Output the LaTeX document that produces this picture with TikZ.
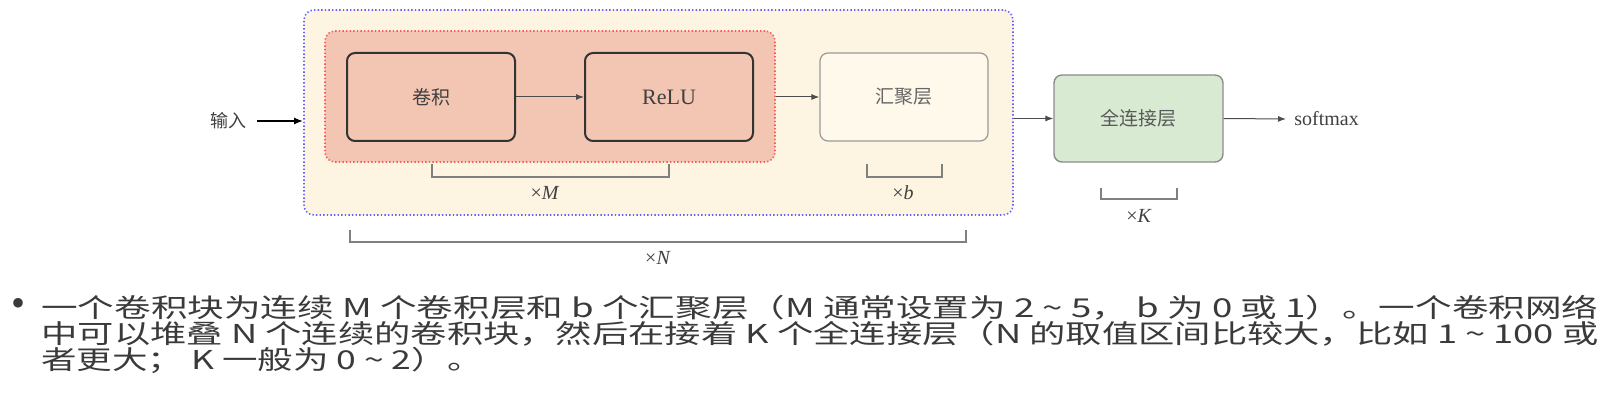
\documentclass[tikz,border=0pt]{standalone}
\usepackage{fontspec}
\usepackage{graphicx}
\usetikzlibrary{arrows.meta}
\newfontfamily\cjk{Noto Sans CJK SC}
\newfontfamily\serif{Liberation Serif}
\definecolor{salmon}{HTML}{F3C6B4}
\definecolor{creamout}{HTML}{FEF4E2}
\definecolor{creampool}{HTML}{FFF9EC}
\definecolor{fcgreen}{HTML}{D9EAD3}
\definecolor{blueline}{HTML}{6464FF}
\definecolor{redline}{HTML}{FF5A5A}
\definecolor{txtgray}{HTML}{3A3A3A}
\newcommand\lineA{一个卷积块为连续 M 个卷积层和 b 个汇聚层（M 通常设置为 2 \textasciitilde{} 5， b 为 0 或 1）。一个卷积网络}
\newcommand\lineB{中可以堆叠 N 个连续的卷积块，然后在接着 K 个全连接层（N 的取值区间比较大，比如 1 \textasciitilde{} 100 或}
\newcommand\lineC{者更大； K 一般为 0 \textasciitilde{} 2）。}
\newcommand\bodyfont{\cjk\fontsize{13pt}{13pt}\selectfont}
\newlength\lineAw
\begin{document}
\settowidth\lineAw{\bodyfont\lineA}
\begin{tikzpicture}[x=0.5pt,y=-0.5pt,
  box/.style={rectangle, rounded corners=4pt, minimum width=84pt, minimum height=44pt, inner sep=0pt, font=\cjk\fontsize{9.5pt}{10pt}\selectfont},
  convbox/.style={box, draw=black!80, line width=1pt, fill=salmon, text=black!75},
  poolbox/.style={box, draw=black!40, line width=0.6pt, fill=creampool, text=black!60},
  fcbox/.style={box, draw=black!45, line width=0.7pt, fill=fcgreen, text=black!65, minimum width=84.5pt, minimum height=43.5pt},
  group/.style={rectangle, rounded corners=5pt, line width=0.8pt, dash pattern=on 0.7pt off 1.1pt, inner sep=0pt},
  arr/.style={-{Latex[length=4pt,width=3pt]}, draw=black!70, line width=0.5pt},
  bracket/.style={draw=black!50, line width=0.6pt},
  lbl/.style={text=black!75, font=\serif\fontsize{10pt}{11pt}\selectfont, inner sep=0pt},
  bodyline/.style={anchor=west, inner sep=0pt, text=txtgray}
]
\useasboundingbox (0,0) rectangle (1612,416);
% groups
\node[group, draw=blueline, fill=creamout, minimum width=354.5pt, minimum height=102.5pt] (outer) at (658.5,112.5) {};
\node[group, draw=redline, fill=salmon, minimum width=225pt, minimum height=65.5pt] (red) at (550,96.5) {};
% boxes
\node[convbox] (conv) at (431,97) {卷积};
\node[convbox, font=\serif\fontsize{11pt}{12pt}\selectfont] (relu) at (669,97) {ReLU};
\node[poolbox] (pool) at (904,97) {汇聚层};
\node[fcbox] (fc) at (1138.5,118.5) {全连接层};
% input / output
\node[lbl, font=\cjk\fontsize{9pt}{10pt}\selectfont] (in) at (228,121) {输入};
\node[lbl, anchor=west, inner sep=4pt] (soft) at (1286,119) {softmax};
% arrows
\draw[arr, draw=black, line width=0.9pt, -{Latex[length=4.5pt,width=3.5pt]}] (in.east) ++(11,0) coordinate (ins) -- (outer.west |- ins);
\draw[arr] (conv.east) -- (relu.west);
\draw[arr] (red.east |- relu) -- (pool.west);
\draw[arr] (outer.east |- fc) -- (fc.west);
\draw[arr] (fc.east) -- (soft.west);
% brackets
\draw[bracket] (432,164) |- (669,177) -- (669,164);
\node[lbl] (xm) at (545,193) {×\textit{M}};
\draw[bracket] (867,164) |- (942,177) -- (942,164);
\node[lbl] (xb) at (903,193) {×\textit{b}};
\draw[bracket] (1101,188) |- (1177,199) -- (1177,188);
\node[lbl] (xk) at (1139,216) {×\textit{K}};
\draw[bracket] (350,230) |- (966,242) -- (966,230);
\node[lbl] (xn) at (658,258) {×\textit{N}};
% bullet text
\pgfmathsetmacro\sx{0.97*778.5/\lineAw}
\node[inner sep=0pt, text=txtgray, font=\serif\fontsize{20pt}{20pt}\selectfont] (bul) at (19,307) {•};
\node[bodyline, font=\bodyfont] (l1) at (41,308) {\resizebox{778.5pt}{\height}{\lineA}};
\node[bodyline, font=\bodyfont] (l2) at (41,334) {\resizebox{778.5pt}{\height}{\lineB}};
\node[bodyline, font=\bodyfont] (l3) at (41,360) {\scalebox{\sx}[1]{\lineC}};
\end{tikzpicture}
\end{document}
